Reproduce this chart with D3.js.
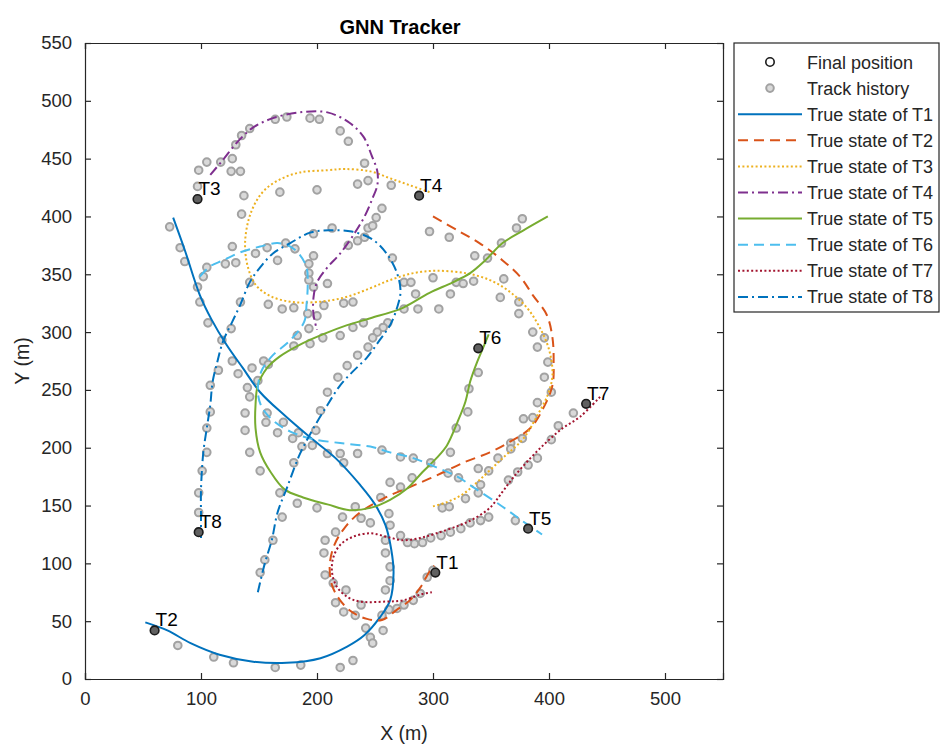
<!DOCTYPE html>
<html><head><meta charset="utf-8">
<script src="https://cdn.jsdelivr.net/npm/d3@7"></script>
<style>body{margin:0;background:#fff}text{font-family:"Liberation Sans",Arial,sans-serif;fill:#262626}</style>
</head><body><svg id="c" width="942" height="745"></svg>
<script>
const xTicks=[0,100,200,300,400,500];
const yTicks=[0,50,100,150,200,250,300,350,400,450,500,550];
const seriesNames=["True state of T1","True state of T2","True state of T3","True state of T4","True state of T5","True state of T6","True state of T7","True state of T8"];
const truthT1=[[76,399],[86,371],[99,332],[109,311],[122,289],[136,269],[151,248],[172,228],[194,209],[216,191],[237,168],[250,151],[259,133],[264,112],[266,92],[263,68],[254,53],[241,38],[226,28],[203,18],[174,14],[145,15],[116,21],[91,31],[71,42],[52,49]];
const truthT2=[[300,400],[321,388],[340,377],[360,362],[375,348],[386,332],[398,315],[403,295],[404,274],[403,254],[395,234],[384,217],[366,205],[349,196],[326,187],[303,176],[280,166],[259,157],[237,144],[224,131],[215,116],[211,99],[213,81],[220,68],[230,58],[243,52],[256,51],[269,60],[280,68],[289,79],[297,93],[301,98]];
const truthT3=[[297,421],[280,427],[263,433],[246,439],[224,441],[209,440],[185,438],[168,432],[155,423],[147,412],[141,397],[138,377],[140,358],[147,341],[160,331],[179,326],[200,326],[224,330],[246,338],[263,345],[283,351],[303,353],[328,351],[349,345],[366,335],[381,321],[392,304],[400,285],[403,263],[399,246],[390,228],[378,208],[360,191],[340,172],[326,160],[312,153],[299,149]];
const truthT4=[[108,436],[119,449],[131,464],[145,477],[162,485],[185,490],[209,490],[228,481],[240,469],[247,453],[252,439],[252,427],[248,416],[242,402],[234,388],[220,368],[209,356],[200,343],[197,330],[197,315],[200,302]];
const truthT5=[[399,400],[378,388],[360,377],[345,362],[332,351],[317,343],[297,334],[274,321],[246,312],[226,306],[205,298],[185,289],[168,279],[157,269],[149,254],[147,237],[147,217],[151,196],[160,179],[172,164],[188,157],[209,151],[228,146],[246,148],[263,155],[278,165],[291,179],[303,191],[312,202],[321,222],[328,240],[332,257],[338,274],[343,286],[348,298]];
const truthT6=[[99,348],[108,357],[119,362],[134,369],[151,374],[166,377],[177,374],[185,367],[191,356],[192,341],[191,324],[189,309],[177,293],[161,279],[152,266],[149,248],[153,234],[164,222],[177,214],[194,208],[220,204],[246,201],[263,196],[283,191],[303,183],[321,175],[336,165],[360,149],[378,136],[394,125]];
const truthT7=[[444,244],[427,227],[412,217],[398,205],[384,191],[369,174],[360,162],[349,148],[336,139],[323,133],[303,126],[289,122],[274,120],[260,123],[246,126],[231,123],[220,116],[214,105],[213,92],[217,80],[226,71],[237,67],[260,67],[274,68],[289,73],[299,75]];
const truthT8=[[149,75],[155,100],[161,120],[166,144],[174,165],[185,194],[197,217],[209,237],[220,254],[231,266],[243,278],[254,293],[263,306],[269,321],[272,335],[269,351],[260,368],[248,380],[230,387],[211,388],[194,386],[177,377],[162,368],[151,356],[142,343],[134,324],[127,309],[119,292],[114,274],[110,257],[108,237],[105,217],[102,196],[100,164],[100,142],[100,122]];
const trackHistory=[[164,484],[174,486],[194,485],[202,484],[142,476],[135,470],[130,462],[220,474],[227,465],[127,450],[117,447],[105,447],[98,440],[126,439],[134,439],[97,426],[241,446],[235,428],[244,431],[168,421],[200,423],[137,418],[135,402],[73,391],[82,373],[86,361],[97,339],[127,374],[121,359],[130,360],[105,356],[102,348],[147,368],[157,373],[166,362],[173,377],[181,372],[197,385],[213,390],[227,375],[235,379],[241,382],[197,366],[193,359],[193,351],[193,345],[197,339],[209,342],[142,343],[244,390],[264,427],[256,407],[251,399],[248,392],[297,387],[314,382],[377,398],[372,390],[359,377],[336,366],[347,364],[265,364],[275,343],[281,343],[300,347],[320,343],[326,342],[335,344],[361,346],[285,333],[315,333],
[99,326],[134,326],[158,324],[170,320],[180,321],[192,316],[200,314],[206,323],[223,325],[231,326],[106,308],[126,303],[193,303],[183,297],[180,288],[205,295],[194,290],[220,297],[231,304],[240,308],[118,293],[244,287],[235,280],[226,271],[154,275],[158,272],[144,269],[127,275],[115,267],[132,264],[218,261],[209,248],[140,252],[142,244],[149,258],[108,254],[203,232],[138,230],[157,230],[156,222],[108,231],[171,222],[166,213],[138,215],[179,208],[184,213],[105,217],[199,215],[187,201],[196,202],[105,196],[142,196],[209,195],[220,195],[235,195],[180,187],[101,180],[151,180],[223,187],
[287,320],[305,320],[358,330],[374,326],[374,316],[261,308],[257,304],[252,300],[248,295],[275,320],[386,300],[396,295],[390,287],[399,274],[396,261],[339,265],[331,251],[402,248],[390,239],[330,231],[421,230],[408,219],[378,225],[386,226],[320,217],[402,207],[377,208],[367,204],[367,199],[315,196],[256,198],[272,192],[283,191],[298,187],[356,191],[390,191],[382,185],[373,179],[365,172],[339,182],[348,180],[313,178],[322,174],[282,174],[263,170],[272,166],[341,168],
[98,161],[98,144],[168,161],[183,152],[200,148],[170,140],[162,120],[155,103],[151,92],[233,149],[222,140],[238,139],[216,127],[207,120],[206,109],[207,90],[214,83],[225,77],[216,66],[223,58],[233,55],[238,64],[242,44],[80,29],[111,19],[128,14],[164,10],[186,12],[220,10],[231,16],
[339,161],[328,156],[308,148],[314,149],[371,137],[348,140],[341,137],[332,135],[324,130],[315,127],[307,124],[298,122],[291,118],[284,117],[278,118],[272,124],[255,157],[262,143],[263,133],[259,120],[259,109],[263,97],[263,85],[259,77],[246,135],[300,94],[295,88],[289,74],[283,68],[275,64],[269,61],[262,60],[256,55],[257,42],[246,36],[248,31]];
const finalIds=["T1","T2","T3","T4","T5","T6","T7","T8"];
const finalX=[302,60,97,288,382,339,432,98];
const finalY=[92,42,415,418,130,286,238,127];

const truths=[truthT1,truthT2,truthT3,truthT4,truthT5,truthT6,truthT7,truthT8];
const colors=["#0072BD","#D95319","#EDB120","#7E2F8E","#77AC30","#4DBEEE","#A2142F","#0072BD"];
const dashes=[null,"10,6","2,2.4","10,4,2,4",null,"10,6","2,2.4","10,4,2,4"];

const svg=d3.select("#c");
const L=85,R=723,T=43,B=679;
const x=d3.scaleLinear().domain([0,550]).range([L,R]);
const y=d3.scaleLinear().domain([0,550]).range([B,T]);
const axisColor="#262626";

// track history
svg.append("g").selectAll("circle").data(trackHistory).join("circle")
 .attr("cx",d=>x(d[0])).attr("cy",d=>y(d[1])).attr("r",3.8)
 .attr("fill","#d9d9d9").attr("stroke","#a2a2a2").attr("stroke-width",2);

// truth lines
const line=d3.line().x(d=>x(d[0])).y(d=>y(d[1])).curve(d3.curveCatmullRom.alpha(0.5));
truths.forEach((t,i)=>{
 svg.append("path").attr("d",line(t)).attr("fill","none").attr("stroke",colors[i])
  .attr("stroke-width",2).attr("stroke-dasharray",dashes[i]);
});

// final positions
const fg=svg.append("g");
finalIds.forEach((id,i)=>{
 fg.append("circle").attr("cx",x(finalX[i])).attr("cy",y(finalY[i])).attr("r",4.3)
  .attr("fill","#606060").attr("stroke","#1a1a1a").attr("stroke-width",1.6);
 fg.append("text").attr("x",x(finalX[i])+1).attr("y",y(finalY[i])-4).attr("font-size",19).style("fill","#000").text(id);
});

// axes (ticks inward, mirrored)
const gx=svg.append("g").attr("transform",`translate(0,${B})`).call(d3.axisBottom(x).tickValues(xTicks).tickSize(-6).tickPadding(13).tickFormat(d3.format("d")));
const gxt=svg.append("g").attr("transform",`translate(0,${T})`).call(d3.axisTop(x).tickValues(xTicks).tickSize(-6).tickFormat(""));
const gy=svg.append("g").attr("transform",`translate(${L},0)`).call(d3.axisLeft(y).tickValues(yTicks).tickSize(-6).tickPadding(13).tickFormat(d3.format("d")));
const gyr=svg.append("g").attr("transform",`translate(${R},0)`).call(d3.axisRight(y).tickValues(yTicks).tickSize(-6).tickFormat(""));
[gx,gxt,gy,gyr].forEach(g=>{
 g.select(".domain").attr("stroke",axisColor).attr("stroke-width",1.2);
 g.selectAll(".tick line").attr("stroke",axisColor).attr("stroke-width",1.2);
 g.selectAll("text").attr("font-size",18.5).attr("font-family","Liberation Sans, Arial, sans-serif").attr("fill",axisColor);
});

// title and labels
svg.append("text").attr("x",(L+R)/2-4).attr("y",34).attr("text-anchor","middle").attr("font-size",20).attr("font-weight","bold").style("fill","#000").text("GNN Tracker");
svg.append("text").attr("x",(L+R)/2).attr("y",740).attr("text-anchor","middle").attr("font-size",19.5).text("X (m)");
svg.append("text").attr("transform",`translate(29,${(T+B)/2}) rotate(-90)`).attr("text-anchor","middle").attr("font-size",19.5).text("Y (m)");

// legend
const lg=svg.append("g");
lg.append("rect").attr("x",734).attr("y",43).attr("width",205).attr("height",269).attr("fill","#fff").attr("stroke",axisColor).attr("stroke-width",1.2);
const labels=["Final position","Track history"].concat(seriesNames);
labels.forEach((lab,i)=>{
 const yy=62+26.1*i;
 if(i===0){
  lg.append("circle").attr("cx",770).attr("cy",yy).attr("r",4.2).attr("fill","none").attr("stroke","#1a1a1a").attr("stroke-width",1.6);
 } else if(i===1){
  lg.append("circle").attr("cx",770).attr("cy",yy).attr("r",3.8).attr("fill","#d9d9d9").attr("stroke","#a2a2a2").attr("stroke-width",2);
 } else {
  const k=i-2;
  lg.append("line").attr("x1",738).attr("x2",802).attr("y1",yy).attr("y2",yy).attr("stroke",colors[k]).attr("stroke-width",2).attr("stroke-dasharray",dashes[k]);
 }
 lg.append("text").attr("x",807).attr("y",yy+6.5).attr("font-size",18).text(lab);
});
</script></body></html>
